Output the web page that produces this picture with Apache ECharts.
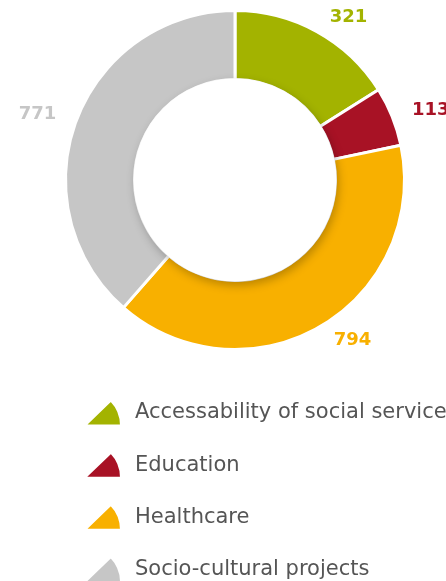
<!DOCTYPE html>
<html>
<head>
<meta charset="utf-8">
<script src="https://cdn.jsdelivr.net/npm/echarts@6/dist/echarts.min.js"></script>
<style>
html,body{margin:0;padding:0;background:#fff;}
#chart{width:446px;height:581px;}
</style>
</head>
<body>
<div id="chart"></div>
<script>
const categories = ['Accessability of social services', 'Education', 'Healthcare', 'Socio-cultural projects'];
const values = [321, 113, 794, 771];
const colors = ['#A3B300', '#A81225', '#F8B000', '#C6C6C6'];

const chart = echarts.init(document.getElementById('chart'), null, {renderer: 'canvas'});

const pieData = categories.map((name, i) => ({
  name: name,
  value: values[i],
  itemStyle: {color: colors[i]},
  label: {color: colors[i]}
}));

const option = {
  animation: false,
  backgroundColor: '#fff',
  legend: {
    data: categories,
    orient: 'vertical',
    left: 84,
    top: 399.5,
    height: 260,
    padding: 0,
    itemWidth: 36,
    itemHeight: 25,
    itemGap: 25.2,
    icon: 'path://M0,32 L23,9.8 A32,32 0 0 1 32,32 Z',
    selectedMode: false,
    textStyle: {
      fontFamily: 'DejaVu Sans',
      fontSize: 21,
      color: '#555',
      padding: [0, 0, 0, 9]
    }
  },
  series: [
    {
      type: 'pie',
      center: [235, 180],
      radius: [100.5, 169.5],
      startAngle: 90,
      clockwise: true,
      avoidLabelOverlap: false,
      emphasis: {disabled: true},
      itemStyle: {borderColor: '#fff', borderWidth: 3},
      label: {
        show: true,
        position: 'outside',
        formatter: '{c}',
        fontFamily: 'DejaVu Sans',
        fontWeight: 'bold',
        fontSize: 18
      },
      labelLine: {show: false, length: 16, length2: 0},
      data: pieData
    },
    {
      type: 'pie',
      center: [235, 180],
      radius: [0, 101.5],
      silent: true,
      legendHoverLink: false,
      emphasis: {disabled: true},
      label: {show: false},
      labelLine: {show: false},
      itemStyle: {
        color: '#fff',
        shadowBlur: 10,
        shadowColor: 'rgba(0,0,0,0.25)',
        shadowOffsetX: 2,
        shadowOffsetY: 4
      },
      data: [{name: '', value: 1}]
    }
  ]
};
chart.setOption(option);
</script>
</body>
</html>
